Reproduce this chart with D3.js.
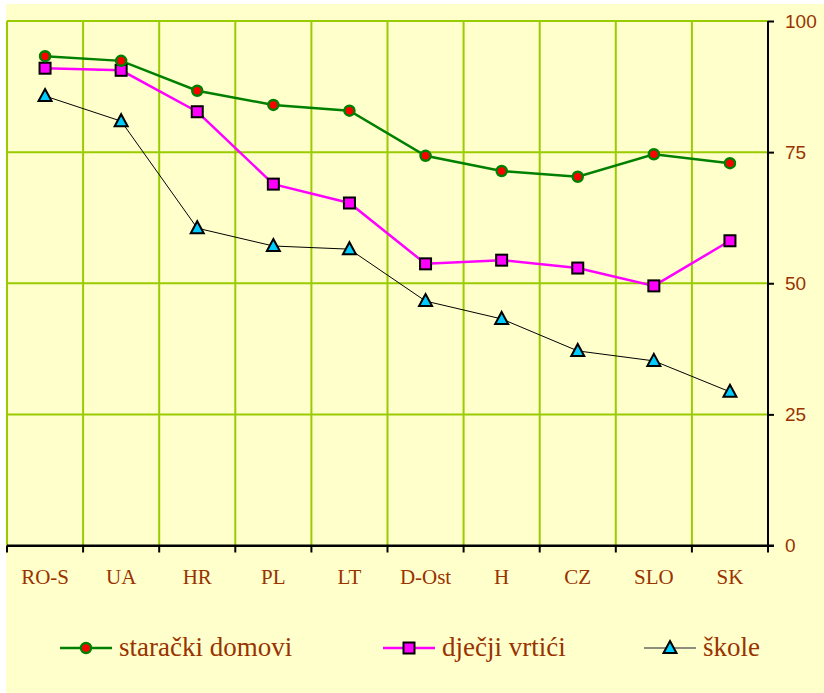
<!DOCTYPE html>
<html><head><meta charset="utf-8">
<script src="https://cdn.jsdelivr.net/npm/d3@7"></script>
<style>body{margin:0;background:#fff}</style>
</head><body><svg id="c" width="824" height="693"></svg>
<script>
const categories = ["RO-S","UA","HR","PL","LT","D-Ost","H","CZ","SLO","SK"];
const staracki = [93.3,92.4,86.7,84.0,82.9,74.3,71.4,70.3,74.6,72.9];
const vrtici = [91.0,90.6,82.7,68.9,65.3,53.7,54.4,52.9,49.5,58.1];
const skole = [85.7,80.9,60.5,57.1,56.5,46.6,43.2,37.1,35.2,29.3];
const yTicks = [0,25,50,75,100];
const seriesNames = ["starački domovi","dječji vrtići","škole"];

const svg = d3.select("#c");
const txt = "#993300";
svg.append("rect").attr("x",6).attr("y",4).attr("width",818).attr("height",689).attr("fill","#FFFFCC");

const x = d3.scaleBand().domain(categories).range([7,768]).padding(0);
const y = d3.scaleLinear().domain([0,100]).range([545.5,21]);

// grid
const g = svg.append("g");
yTicks.filter(t=>t>0).forEach(t=>{
  g.append("line").attr("x1",7).attr("x2",768).attr("y1",y(t)).attr("y2",y(t)).attr("stroke","#99CC00").attr("stroke-width",2);
});
categories.forEach(c=>{
  g.append("line").attr("x1",x(c)).attr("x2",x(c)).attr("y1",y(100)).attr("y2",y(0)).attr("stroke","#99CC00").attr("stroke-width",2);
});

// axes
const xAxis = svg.append("g").attr("transform",`translate(0,${y(0)})`)
  .call(d3.axisBottom(x).tickSize(0));
xAxis.select(".domain").attr("stroke","#000").attr("stroke-width",2);
xAxis.selectAll("text").attr("y",38.5).attr("dy",0).attr("fill",txt).attr("font-family","Liberation Serif, Times New Roman, serif").attr("font-size",21);
const bounds = categories.map(c=>x(c)).concat([x.range()[1]]);
bounds.forEach(b=>{
  svg.append("line").attr("x1",b).attr("x2",b).attr("y1",y(0)).attr("y2",y(0)+7).attr("stroke","#000").attr("stroke-width",2);
});

const yAxis = svg.append("g").attr("transform","translate(768,0)")
  .call(d3.axisRight(y).tickValues(yTicks).tickSize(6).tickPadding(11));
yAxis.select(".domain").attr("stroke","#000").attr("stroke-width",2).attr("d",`M0,${y(100)}V${y(0)}`);
yAxis.selectAll(".tick line").attr("stroke","#000").attr("stroke-width",2);
yAxis.selectAll("text").attr("fill",txt).attr("font-family","Liberation Sans, Arial, sans-serif").attr("font-size",19);
svg.append("line").attr("x1",7).attr("x2",774).attr("y1",y(0)).attr("y2",y(0)).attr("stroke","#000").attr("stroke-width",2);

const cx = c => x(c) + x.bandwidth()/2;
const line = d3.line().x((d,i)=>cx(categories[i])).y(d=>y(d));

function circleMarker(sel,px,py){
  sel.append("circle").attr("cx",px).attr("cy",py).attr("r",5).attr("fill","#FF0000").attr("stroke","#008000").attr("stroke-width",2.5);
}
function squareMarker(sel,px,py){
  sel.append("rect").attr("x",px-5.5).attr("y",py-5.5).attr("width",11).attr("height",11).attr("fill","#FF00FF").attr("stroke","#000").attr("stroke-width",2);
}
function triMarker(sel,px,py){
  sel.append("path").attr("d",`M${px},${py-7}L${px+6.5},${py+5}L${px-6.5},${py+5}Z`).attr("fill","#00CCFF").attr("stroke","#000").attr("stroke-width",2).attr("stroke-linejoin","miter");
}

const series = [
  {name:seriesNames[0], data:staracki, color:"#008000", w:2.5, marker:circleMarker, legColor:"#008000"},
  {name:seriesNames[1], data:vrtici, color:"#FF00FF", w:2.5, marker:squareMarker, legColor:"#FF00FF"},
  {name:seriesNames[2], data:skole, color:"#000000", w:1, marker:triMarker, legColor:"#666666"}
];
[...series].reverse().forEach(s=>{
  svg.append("path").datum(s.data).attr("d",line).attr("fill","none").attr("stroke",s.color).attr("stroke-width",s.w);
});
[...series].reverse().forEach(s=>{
  const mg = svg.append("g");
  s.data.forEach((v,i)=>s.marker(mg,cx(categories[i]),y(v)));
});

// legend
const legX = [60,383,644];
const legY = 648;
series.forEach((s,i)=>{
  const lg = svg.append("g");
  lg.append("line").attr("x1",legX[i]).attr("x2",legX[i]+52).attr("y1",legY).attr("y2",legY).attr("stroke",s.legColor).attr("stroke-width",s.w===1?1.5:2.5);
  s.marker(lg,legX[i]+26,legY);
  lg.append("text").attr("x",legX[i]+59).attr("y",legY+8).text(s.name).attr("fill",txt)
    .attr("font-family","Liberation Serif, Times New Roman, serif").attr("font-size",27);
});
</script></body></html>
